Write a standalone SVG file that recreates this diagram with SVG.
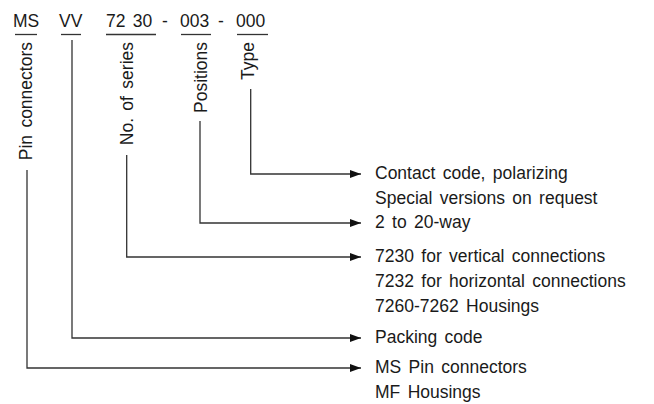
<svg xmlns="http://www.w3.org/2000/svg" width="654" height="404" viewBox="0 0 654 404">
<defs>
<style>
text{font-family:"Liberation Sans",Arial,sans-serif;font-size:17.5px;fill:#1a1a1a;word-spacing:2.5px}
.v{text-anchor:end}
.ul{stroke:#333;stroke-width:1.3}
.ln{fill:none;stroke:#333;stroke-width:1.3}
</style>
<marker id="ah" markerWidth="11" markerHeight="8" refX="11" refY="4" orient="auto" markerUnits="userSpaceOnUse">
<path d="M0,0 L11,4 L0,8 Z" fill="#111"/>
</marker>
</defs>
<rect width="654" height="404" fill="#fff"/>
<g id="code-ms">
<text x="13" y="27">MS</text>
<line class="ul" x1="15" y1="34.5" x2="37" y2="34.5"/>
<text class="v" transform="translate(32,42) rotate(-90)">Pin connectors</text>
</g>
<g id="code-vv">
<text x="59" y="27">VV</text>
<line class="ul" x1="61" y1="34.5" x2="81" y2="34.5"/>
</g>
<g id="code-series">
<text x="106" y="27" word-spacing="2">72 30</text>
<line class="ul" x1="106" y1="34.5" x2="156" y2="34.5"/>
<text class="v" transform="translate(133,42) rotate(-90)">No. of series</text>
</g>
<text x="165" y="27" text-anchor="middle">-</text>
<g id="code-positions">
<text x="180" y="27">003</text>
<line class="ul" x1="181" y1="34.5" x2="211" y2="34.5"/>
<text class="v" transform="translate(207,42) rotate(-90)">Positions</text>
</g>
<text x="221" y="27" text-anchor="middle">-</text>
<g id="code-type">
<text x="236" y="27">000</text>
<line class="ul" x1="237" y1="34.5" x2="268" y2="34.5"/>
<text class="v" transform="translate(254,42) rotate(-90)">Type</text>
</g>
<g id="connectors">
<polyline class="ln" points="250.7,89 250.7,174 361,174" marker-end="url(#ah)"/>
<polyline class="ln" points="200,121 200,223 361,223" marker-end="url(#ah)"/>
<polyline class="ln" points="126.7,155 126.7,257 361,257" marker-end="url(#ah)"/>
<polyline class="ln" points="72,40 72,338 361,338" marker-end="url(#ah)"/>
<polyline class="ln" points="27,170 27,368 361,368" marker-end="url(#ah)"/>
</g>
<g id="desc-type">
<text x="375" y="179">Contact code, polarizing</text>
<text x="375" y="204">Special versions on request</text>
</g>
<g id="desc-positions">
<text x="375" y="228">2 to 20-way</text>
</g>
<g id="desc-series">
<text x="375" y="262">7230 for vertical connections</text>
<text x="375" y="287">7232 for horizontal connections</text>
<text x="375" y="312">7260-7262 Housings</text>
</g>
<g id="desc-vv">
<text x="375" y="343">Packing code</text>
</g>
<g id="desc-ms">
<text x="375" y="373">MS Pin connectors</text>
<text x="375" y="398">MF Housings</text>
</g>
</svg>
